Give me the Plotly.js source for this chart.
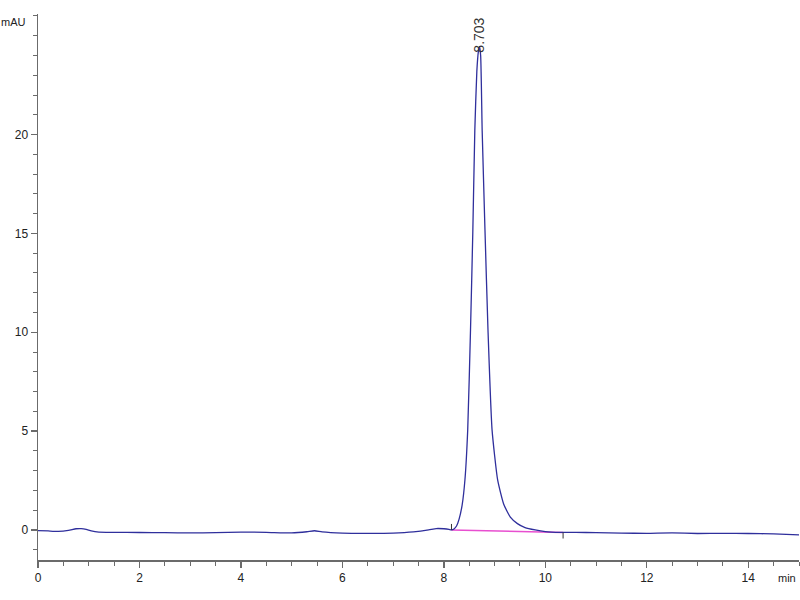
<!DOCTYPE html>
<html><head><meta charset="utf-8">
<script src="https://cdn.plot.ly/plotly-3.0.1.min.js"></script>
<style>html,body{margin:0;padding:0;background:#fff}#chart{width:800px;height:600px}</style>
</head><body><div id="chart"></div>
<script>
// Chromatogram trace (time in min, absorbance in mAU)
const timeMin = [0, 0.2, 0.4, 0.6, 0.75, 0.85, 0.95, 1.05, 1.2, 1.5, 2.0, 2.5, 3.0, 3.5, 4.0, 4.5, 5.0, 5.3, 5.45, 5.6, 6.0, 6.5, 7.0, 7.4, 7.7, 7.85, 8.0, 8.1, 8.15, 8.2, 8.25, 8.3, 8.36, 8.415, 8.47, 8.525, 8.57, 8.61, 8.65, 8.68, 8.703, 8.725, 8.755, 8.81, 8.87, 8.95, 9.06, 9.18, 9.31, 9.45, 9.6, 9.8, 10.0, 10.3, 10.6, 11.0, 11.5, 12.0, 12.5, 13.0, 13.5, 14.0, 14.5, 15.0];
const signalMAU = [-0.03, -0.05, -0.07, -0.02, 0.06, 0.07, 0.03, -0.05, -0.11, -0.12, -0.13, -0.14, -0.15, -0.14, -0.11, -0.12, -0.15, -0.09, -0.04, -0.1, -0.16, -0.17, -0.16, -0.1, 0.0, 0.07, 0.06, 0.03, 0.0, 0.05, 0.2, 0.55, 1.26, 2.53, 5.06, 10.1, 15.0, 20.2, 23.2, 24.2, 24.45, 24.0, 20.2, 15.2, 10.1, 5.06, 2.53, 1.3, 0.65, 0.32, 0.12, 0.0, -0.08, -0.12, -0.12, -0.14, -0.16, -0.17, -0.15, -0.18, -0.17, -0.18, -0.2, -0.25];

// Peak annotation
const peakTimes = [8.703];
const peakHeights = [24.45];
const peakLabels = ['8.703'];

// Integration baseline (start, end)
const baselineTimes = [8.15, 10.35];
const baselineValues = [0.0, -0.13];

// Labelled y ticks
const yTickVals = [0, 5, 10, 15, 20];

const axisColor = '#6b6b6b';
const textFont = {family: 'Liberation Sans, Arial, sans-serif', size: 12, color: '#222'};
const unitFont = {family: 'Liberation Sans, Arial, sans-serif', size: 11, color: '#222'};

const traces = [
  {
    x: baselineTimes, y: baselineValues, type: 'scatter', mode: 'lines',
    line: {color: '#e84fd0', width: 1.5}, hoverinfo: 'skip', showlegend: false
  },
  {
    x: timeMin, y: signalMAU, type: 'scatter', mode: 'lines',
    line: {color: '#2f2f9c', width: 1.3, shape: 'spline', smoothing: 0.5}, showlegend: false
  }
];

const shapes = baselineTimes.map((t, i) => ({
  type: 'line', xref: 'x', yref: 'y', x0: t, x1: t,
  ysizemode: 'pixel', yanchor: baselineValues[i],
  y0: 0, y1: i === 0 ? 6 : -6,
  line: {color: '#333', width: 1}
}));

const annotations = peakTimes.map((t, i) => ({
  x: t, y: peakHeights[i], xref: 'x', yref: 'y',
  text: peakLabels[i], showarrow: false, textangle: -90,
  xanchor: 'center', yanchor: 'bottom', yshift: -8,
  font: {family: textFont.family, size: 14, color: '#333'}
})).concat([
  {xref: 'paper', yref: 'paper', x: 0, y: 1, xanchor: 'right', yanchor: 'middle',
   xshift: -10, yshift: -8, text: 'mAU', showarrow: false, font: unitFont},
  {xref: 'paper', yref: 'paper', x: 1, y: 0, xanchor: 'right', yanchor: 'middle',
   xshift: -1, yshift: -18, text: 'min', showarrow: false, font: unitFont}
]);

const layout = {
  width: 800, height: 600, autosize: false,
  margin: {l: 38, r: 1, t: 14, b: 40},
  paper_bgcolor: '#fff', plot_bgcolor: '#fff',
  showlegend: false,
  font: textFont,
  xaxis: {
    range: [0, 15], tick0: 0, dtick: 2, ticks: 'outside', ticklen: 6, tickwidth: 1.3,
    tickcolor: axisColor, showline: true, linecolor: axisColor, linewidth: 1.5,
    showgrid: false, zeroline: false, tickfont: textFont,
    minor: {dtick: 0.5, tick0: 0, ticks: 'outside', ticklen: 4, tickwidth: 1, tickcolor: axisColor, showgrid: false}
  },
  yaxis: {
    range: [-1.52, 26.1], tickmode: 'array', tickvals: yTickVals, ticks: 'outside', ticklen: 6, tickwidth: 1.3,
    tickcolor: axisColor, showline: true, linecolor: axisColor, linewidth: 1.5,
    showgrid: false, zeroline: false, tickfont: textFont,
    minor: {dtick: 1, tick0: 0, ticks: 'outside', ticklen: 4, tickwidth: 1, tickcolor: axisColor, showgrid: false}
  },
  shapes: shapes,
  annotations: annotations
};

Plotly.newPlot('chart', traces, layout, {staticPlot: true, displayModeBar: false});
</script>
</body></html>
